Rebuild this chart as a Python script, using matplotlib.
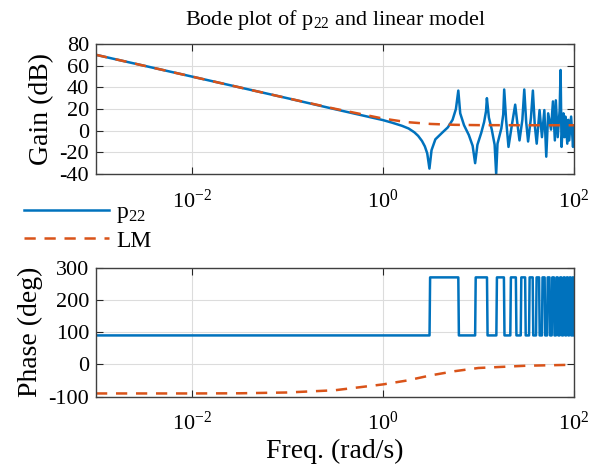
import numpy as np
import matplotlib
matplotlib.use('Agg')
import matplotlib.pyplot as plt
from matplotlib.ticker import LogFormatterMathtext

plt.rcParams['font.family'] = 'Liberation Serif'
plt.rcParams['mathtext.fontset'] = 'custom'
plt.rcParams['mathtext.rm'] = 'Liberation Serif'
plt.rcParams['mathtext.it'] = 'Liberation Serif:italic'
plt.rcParams['axes.unicode_minus'] = False

# gain of p22, log10(w) and dB
p22_lw = [-3.0, -2.0, -1.0, -0.5, 0.0, 0.1, 0.2, 0.27, 0.33, 0.37, 0.41,
          0.44, 0.465, 0.488,
          0.51, 0.55, 0.62, 0.68, 0.73, 0.765, 0.79,
          0.81, 0.85, 0.9, 0.94, 0.966,
          0.99, 1.03, 1.06, 1.08, 1.089,
          1.11, 1.14, 1.17, 1.186,
          1.2, 1.24, 1.26, 1.27,
          1.29, 1.315, 1.35, 1.385, 1.41, 1.43, 1.46, 1.48, 1.50, 1.52,
          1.55, 1.57, 1.59, 1.61,
          1.64, 1.665, 1.69, 1.71, 1.73, 1.76, 1.78, 1.80, 1.81, 1.83,
          1.85, 1.86, 1.87, 1.89, 1.90, 1.91, 1.93, 1.94, 1.95, 1.97,
          1.99, 2.0]
p22_db = [70, 50, 30, 19.8, 9.8, 7.3, 4.5, 2.0, -1.5, -4.8, -9.5,
          -14.5, -21, -35,
          -18, -8, -2, 3, 10, 20, 37,
          16, 5, -4, -14, -30,
          -13, -2, 8, 18, 30,
          12, 1, -13, -40,
          -12, 2, 15, 38,
          10, -15, 5, 24, 5, -9, 10, 38, 8, -10,
          12, 37, 5, -12,
          19, -6, 19, -24, 16, 1, 27, -9, 28, -6,
          19, 56, -15, 16, -6, 13, -12, 10, -9, 13,
          -15, 4]

# gain of the linear model
lm_lw = [-3.0, -2.0, -1.0, -0.5, 0.0, 0.25, 0.5, 0.75, 1.0, 1.5, 2.0]
lm_db = [70, 50, 30, 20.2, 11.2, 7.9, 6.2, 5.4, 5.1, 5.0, 5.0]

# phase of p22 switches between 90 and 270 at these log10(w)
p22_sw = [0.489, 0.79, 0.966, 1.09, 1.188, 1.267, 1.334, 1.392, 1.443,
          1.489, 1.53, 1.568, 1.603, 1.635, 1.665, 1.693, 1.719, 1.744,
          1.767, 1.79, 1.811, 1.83, 1.85, 1.868, 1.886, 1.903, 1.919,
          1.935, 1.95, 1.965, 1.98, 1.994]
ph_low, ph_high = 90, 270

# phase of the linear model
lm_ph_lw = [-3.0, -2.0, -1.5, -1.0, -0.5, 0.0, 0.25, 0.5, 0.75, 1.0, 1.5, 2.0]
lm_ph = [-90, -90, -89.5, -87, -80, -62, -50, -34, -21, -11, -4, -1]

blue = '#0072BD'
orange = '#D95319'

fig = plt.figure(figsize=(5.94, 4.69), dpi=100)
ax1 = fig.add_axes([0.1616, 0.629, 0.8047, 0.2772])
ax2 = fig.add_axes([0.1616, 0.1542, 0.8047, 0.275])

l1, = ax1.semilogx(10**np.array(p22_lw), p22_db, color=blue, lw=1.8)
l2, = ax1.semilogx(10**np.array(lm_lw), lm_db, color=orange, lw=1.8,
                   dashes=(4.5, 3.5))

# build the phase staircase
xs = [-3.0]
ys = [ph_low]
cur = ph_low
for s in p22_sw:
    xs.append(s)
    ys.append(cur)
    cur = ph_high if cur == ph_low else ph_low
    xs.append(s + 0.006)
    ys.append(cur)
xs.append(2.0)
ys.append(cur)
ax2.semilogx(10**np.array(xs), ys, color=blue, lw=1.8)
ax2.semilogx(10**np.array(lm_ph_lw), lm_ph, color=orange, lw=1.8,
             dashes=(4.5, 3.5))

for ax in (ax1, ax2):
    ax.set_xlim(1e-3, 1e2)
    ax.set_xticks([1e-2, 1, 1e2])
    ax.xaxis.set_major_formatter(LogFormatterMathtext())
    ax.minorticks_off()
    ax.grid(True, color='#dcdcdc', lw=0.8)
    ax.set_axisbelow(True)
    ax.tick_params(direction='in', top=True, right=True, labelsize=16,
                   color='#262626', length=5, pad=5)
    ax.tick_params(axis='x', pad=11)
    for sp in ax.spines.values():
        sp.set_color('#404040')
        sp.set_linewidth(1.0)

ax1.set_ylim(-40, 80)
ax1.set_yticks(np.arange(-40, 81, 20))
ax2.set_ylim(-100, 300)
ax2.set_yticks(np.arange(-100, 301, 100))

ax1.set_ylabel('Gain (dB)', fontsize=20, labelpad=4)
ax2.set_ylabel('Phase (deg)', fontsize=20, labelpad=4)
ax2.set_xlabel('Freq. (rad/s)', fontsize=20, labelpad=3)
ax1.set_title('Bode plot of p$_{22}$ and linear model', fontsize=16, pad=14)

fig.legend([l1, l2], ['p$_{22}$', 'LM'], loc='upper left',
           bbox_to_anchor=(0.005, 0.615), frameon=False, fontsize=17,
           handlelength=3.6, handletextpad=0.3, labelspacing=0.2)

fig.savefig('out.png', dpi=100, facecolor='white')
